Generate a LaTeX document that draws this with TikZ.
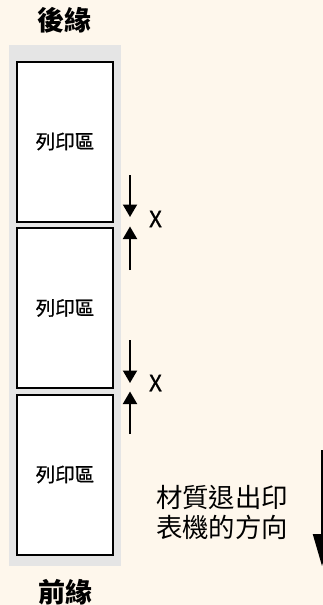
\documentclass[tikz,border=0pt]{standalone}
\usepackage{fontspec}
\usepackage{tikz}
\usetikzlibrary{arrows.meta, positioning}
\newfontfamily\cjk{Noto Sans CJK TC}
\newfontfamily\cjkheavy[FakeBold=0.8]{Noto Sans CJK TC}
\definecolor{paper}{HTML}{FEF7EC}
\definecolor{stripgray}{HTML}{E5E5E5}

\begin{document}
\begin{tikzpicture}[
    x=1pt, y=-1pt,
    zone/.style={rectangle, draw=black, fill=white, line width=2pt, minimum width=96.5pt, minimum height=160pt, font=\cjkheavy\fontsize{19.5}{22}\selectfont},
    strip/.style={rectangle, fill=stripgray, minimum width=112pt, minimum height=521pt, inner sep=0pt},
    edge/.style={font=\cjk\bfseries\fontsize{27}{30}\selectfont},
    gaplabel/.style={font=\cjkheavy\fontsize{22.5}{26}\selectfont},
    gaparrow/.style={-{Triangle[length=12.5pt, width=14pt]}, line width=2pt},
    exitarrow/.style={-{Triangle[length=32pt, width=18pt]}, line width=2pt}
]
\path[fill=paper, use as bounding box] (0,0) rectangle (323,605);
\node[strip] (strip) at (65,305.3) {};
\node[zone] (area1) at (65,141.5) {列印區};
\node[zone, below=4.5pt of area1] (area2) {列印區};
\node[zone, below=4.5pt of area2] (area3) {列印區};
\node[edge] (rear) at (64,20) {後緣};
\node[edge] (front) at (65,592) {前緣};
% gap markers
\coordinate (g1top) at (130,175);
\coordinate (g1tip) at (130,217);
\coordinate (g1bot) at (130,270);
\coordinate (g1tipb) at (130,226.5);
\coordinate (g2top) at (130,340);
\coordinate (g2tip) at (130,383);
\coordinate (g2bot) at (130,434);
\coordinate (g2tipb) at (130,391.5);
\draw[gaparrow] (g1top) -- (g1tip);
\draw[gaparrow] (g1bot) -- (g1tipb);
\draw[gaparrow] (g2top) -- (g2tip);
\draw[gaparrow] (g2bot) -- (g2tipb);
\node[gaplabel] (x1) at (155.5,219) {X};
\node[gaplabel] (x2) at (155.5,383) {X};
% exit direction
\node[font=\cjk\fontsize{26.4}{30}\selectfont, align=center] (exit) at (222,512) {材質退出印\\表機的方向};
\coordinate (exittop) at (322,450);
\coordinate (exittip) at (322,566);
\draw[exitarrow] (exittop) -- (exittip);
\end{tikzpicture}
\end{document}
